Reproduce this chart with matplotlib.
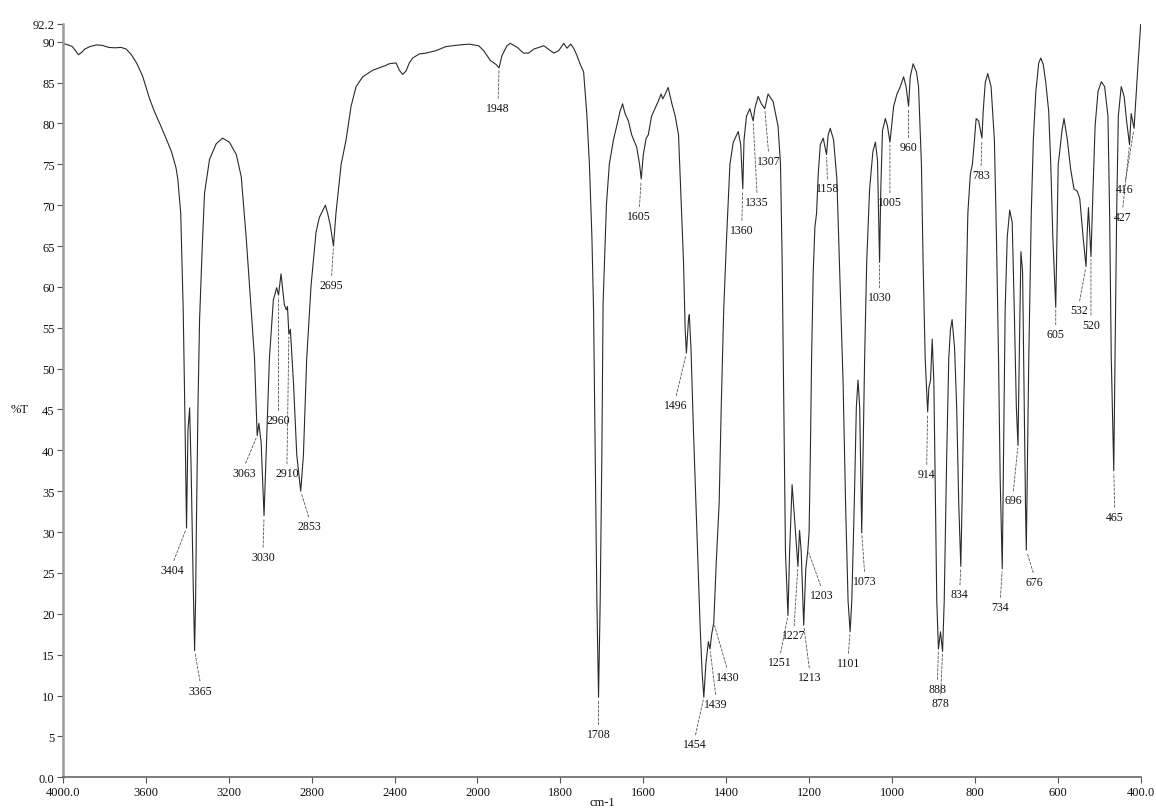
import numpy as np
import matplotlib
matplotlib.use("Agg")
import matplotlib.pyplot as plt

# ---------------- data ----------------
wavenumber = [
    4000, 3975, 3955, 3940, 3925, 3910, 3895, 3870, 3840, 3810, 3780, 3750, 3720, 3695,
    3670, 3645, 3616, 3582, 3558, 3530, 3500, 3476, 3455, 3446, 3432, 3420, 3411, 3404,
    3397, 3389, 3382, 3372, 3365, 3360, 3357, 3349, 3341, 3328, 3317, 3293, 3261, 3230,
    3197, 3164, 3140, 3116, 3092, 3076, 3068, 3063, 3055, 3044, 3036, 3030, 3020, 3004,
    2985, 2969, 2960, 2948, 2932, 2922, 2917, 2910, 2903, 2888, 2872, 2853, 2840, 2824,
    2803, 2779, 2763, 2734, 2723, 2710, 2695, 2683, 2658, 2634, 2610, 2586, 2554, 2506,
    2442, 2426, 2393, 2377, 2361, 2345, 2329, 2313, 2281, 2249, 2201, 2152, 2088, 2040,
    1997, 1985, 1969, 1955, 1948, 1941, 1929, 1921, 1904, 1889, 1877, 1864, 1852, 1840,
    1832, 1816, 1804, 1800, 1792, 1784, 1775, 1768, 1760, 1752, 1744, 1736, 1730, 1724,
    1720, 1716, 1712, 1708, 1704, 1700, 1697, 1689, 1682, 1672, 1664, 1656, 1650, 1644,
    1636, 1628, 1616, 1609, 1605, 1600, 1593, 1588, 1580, 1572, 1564, 1557, 1553, 1547,
    1540, 1531, 1523, 1515, 1510, 1503, 1499, 1496, 1491, 1489, 1485, 1479, 1471, 1463,
    1458, 1454, 1449, 1443, 1439, 1435, 1430, 1424, 1417, 1412, 1406, 1399, 1391, 1383,
    1371, 1365, 1360, 1357, 1351, 1343, 1335, 1331, 1323, 1315, 1307, 1299, 1287, 1275,
    1269, 1265, 1261, 1257, 1251, 1247, 1241, 1236, 1227, 1223, 1219, 1213, 1208, 1203,
    1200, 1197, 1194, 1190, 1186, 1182, 1178, 1173, 1166, 1158, 1154, 1149, 1141, 1133,
    1127, 1118, 1112, 1106, 1101, 1097, 1091, 1086, 1082, 1078, 1073, 1070, 1066, 1061,
    1054, 1046, 1040, 1035, 1030, 1027, 1023, 1016, 1011, 1005, 1001, 996, 988, 980,
    972, 966, 960, 956, 949, 941, 936, 929, 925, 920, 914, 911, 907, 903,
    899, 895, 892, 888, 883, 878, 874, 868, 863, 859, 855, 849, 844, 839,
    834, 831, 827, 822, 817, 811, 806, 802, 797, 791, 783, 780, 775, 769,
    761, 753, 748, 743, 739, 734, 731, 727, 722, 716, 710, 705, 700, 696,
    693, 689, 685, 681, 678, 676, 673, 670, 664, 659, 653, 646, 641, 635,
    629, 622, 617, 612, 605, 602, 599, 595, 590, 585, 577, 569, 561, 553,
    547, 539, 532, 529, 526, 523, 520, 515, 510, 503, 495, 487, 479, 475,
    471, 465, 462, 458, 454, 447, 440, 434, 427, 423, 416, 412, 407, 400,
]
transmittance = [
    89.8, 89.6, 89.4, 88.9, 88.4, 88.7, 89.1, 89.4, 89.6, 89.55, 89.3, 89.25, 89.3, 89.1,
    88.4, 87.4, 85.8, 83.0, 81.4, 79.8, 78.0, 76.5, 74.6, 73.2, 69.0, 57.2, 43.0, 30.5,
    42.5, 45.2, 38.0, 24.0, 15.5, 22.0, 29.5, 45.0, 56.0, 65.0, 71.5, 75.6, 77.5, 78.2,
    77.7, 76.2, 73.5, 66.0, 57.2, 51.3, 45.5, 41.8, 43.3, 41.0, 36.0, 32.0, 39.4, 51.3,
    58.4, 59.9, 59.0, 61.6, 57.8, 57.2, 57.6, 54.2, 54.8, 48.3, 39.4, 35.0, 39.4, 51.3,
    60.2, 66.7, 68.5, 70.0, 69.0, 67.5, 65.0, 69.0, 75.0, 78.0, 82.1, 84.5, 85.7, 86.5,
    87.1, 87.3, 87.4, 86.5, 86.0, 86.4, 87.4, 88.0, 88.5, 88.6, 88.9, 89.4, 89.6, 89.7,
    89.5, 88.9, 87.7, 87.2, 86.8, 88.3, 89.5, 89.8, 89.3, 88.6, 88.6, 89.1, 89.3, 89.5,
    89.2, 88.6, 88.9, 89.2, 89.8, 89.2, 89.7, 89.2, 88.3, 87.2, 86.3, 80.9, 75.0, 66.1,
    57.2, 39.4, 21.6, 9.8, 21.6, 39.4, 58.0, 70.0, 75.0, 78.0, 79.7, 81.5, 82.4, 81.2,
    80.3, 78.6, 77.1, 75.0, 73.2, 76.2, 78.2, 78.6, 80.9, 81.8, 82.7, 83.6, 83.0, 83.6,
    84.4, 82.4, 80.9, 78.6, 72.0, 63.1, 54.8, 51.9, 56.0, 56.6, 52.5, 42.4, 30.5, 18.6,
    12.7, 9.8, 13.9, 16.6, 15.7, 17.5, 18.9, 26.3, 33.5, 45.3, 57.2, 66.1, 75.0, 77.7,
    79.0, 77.4, 72.0, 78.0, 80.9, 81.8, 80.3, 81.8, 83.3, 82.4, 81.8, 83.6, 82.7, 79.7,
    75.0, 63.1, 45.3, 27.5, 19.8, 27.6, 35.8, 32.3, 25.8, 30.2, 27.6, 18.6, 25.5, 27.8,
    30.0, 39.4, 51.3, 61.9, 67.3, 69.0, 73.8, 77.4, 78.2, 76.2, 78.6, 79.4, 78.0, 73.2,
    63.1, 48.3, 33.5, 21.6, 17.8, 21.6, 33.5, 45.3, 48.6, 45.3, 29.9, 39.4, 51.3, 63.1,
    72.0, 76.6, 77.7, 75.5, 63.0, 72.0, 79.1, 80.6, 79.7, 77.7, 79.7, 82.1, 83.6, 84.5,
    85.7, 84.5, 82.1, 85.7, 87.3, 86.3, 84.5, 75.0, 63.1, 51.3, 44.7, 47.7, 48.6, 53.6,
    48.3, 33.5, 21.6, 15.7, 17.8, 15.4, 21.6, 39.4, 51.3, 54.8, 56.0, 52.5, 45.3, 33.5,
    25.8, 33.5, 45.3, 57.2, 69.0, 73.8, 75.0, 77.4, 80.6, 80.3, 78.2, 81.5, 85.0, 86.1,
    84.5, 78.0, 66.1, 51.3, 36.4, 25.5, 39.4, 57.2, 66.1, 69.4, 67.9, 57.2, 45.3, 40.6,
    51.3, 64.3, 61.9, 45.3, 33.5, 27.8, 40.0, 51.3, 69.0, 78.0, 83.9, 87.4, 88.0, 87.2,
    85.0, 81.5, 75.0, 66.1, 57.5, 66.1, 75.0, 76.7, 79.1, 80.6, 78.0, 74.4, 72.0, 71.7,
    70.8, 66.1, 62.5, 66.7, 69.7, 66.7, 63.7, 72.0, 79.7, 83.9, 85.1, 84.5, 80.9, 69.0,
    51.3, 37.5, 51.3, 69.0, 80.9, 84.5, 83.3, 80.3, 77.4, 81.2, 79.4, 82.7, 86.8, 92.2,
]

peak_wavenumbers = [3404, 3365, 3063, 3030, 2960, 2910, 2853, 2695, 1948, 1708, 1605,
                    1496, 1454, 1439, 1430, 1360, 1335, 1307, 1251, 1227, 1213, 1203,
                    1158, 1101, 1073, 1030, 1005, 960, 914, 888, 878, 834, 783, 734,
                    696, 676, 605, 532, 520, 465, 427, 416]
peak_labels = [str(p) for p in peak_wavenumbers]

x_ticks = [4000, 3600, 3200, 2800, 2400, 2000, 1800, 1600, 1400, 1200, 1000, 800, 600, 400]
x_tick_labels = ["4000.0", "3600", "3200", "2800", "2400", "2000", "1800", "1600",
                 "1400", "1200", "1000", "800", "600", "400.0"]
y_ticks = [0, 5, 10, 15, 20, 25, 30, 35, 40, 45, 50, 55, 60, 65, 70, 75, 80, 85, 90, 92.2]
y_tick_labels = ["0.0", "5", "10", "15", "20", "25", "30", "35", "40", "45", "50", "55",
                 "60", "65", "70", "75", "80", "85", "90", "92.2"]

# label offsets from the peak point, in pixels (right, down) -- layout only
label_offsets_px = [(-14, 42), (6, 40), (-13, 37), (-1, 41), (0, 125), (-2, 139), (9, 35),
                    (-2, 39), (-1, 40), (0, 37), (-2, 37), (-11, 52), (-9, 47), (6, 55),
                    (14, 54), (-1, 41), (4, 81), (4, 52), (-8, 47), (-4, 69), (6, 52),
                    (14, 45), (1, 34), (-2, 31), (3, 48), (0, 35), (0, 60), (0, 41),
                    (-1, 62), (-1, 40), (-2, 52), (-1, 28), (-1, 37), (-2, 38), (-5, 55),
                    (8, 32), (0, 27), (-7, 44), (0, 68), (1, 46), (-7, 72), (-9, 61)]

# ---------------- figure ----------------
plt.rcParams["font.family"] = ["Liberation Serif", "DejaVu Serif"]

W, H, DPI = 1156, 812, 100
fig = plt.figure(figsize=(W / DPI, H / DPI), dpi=DPI)
ax = fig.add_axes([63 / W, 1 - 778.3 / H, (1140.7 - 63) / W, (778.3 - 24.7) / H])


def fwd(x):
    x = np.asarray(x, dtype=float)
    return np.where(x > 2000, 2000 + (x - 2000) / 2.0, x)


def inv(y):
    y = np.asarray(y, dtype=float)
    return np.where(y > 2000, 2000 + (y - 2000) * 2.0, y)


ax.set_xscale("function", functions=(fwd, inv))
ax.set_xlim(4000, 400)
ax.set_ylim(0, 92.2)

ax.plot(wavenumber, transmittance, color="#2a2a2a", lw=0.8)

wn_arr = np.array(wavenumber, dtype=float)
t_arr = np.array(transmittance, dtype=float)
px2pt = 72.0 / DPI
for wn, lab, (dx, dy) in zip(peak_wavenumbers, peak_labels, label_offsets_px):
    t = np.interp(wn, wn_arr[::-1], t_arr[::-1])
    ax.annotate(lab, xy=(wn, t), xytext=(dx * px2pt, -dy * px2pt),
                textcoords="offset points", ha="center", va="center",
                fontsize=8.5, color="#111111",
                arrowprops=dict(arrowstyle="-", linestyle=(0, (3, 2)), lw=0.6,
                                color="#555555", shrinkA=0.5, shrinkB=2,
                                relpos=(0.5, 1.0)))

ax.set_xticks(x_ticks)
ax.set_xticklabels(x_tick_labels)
ax.set_yticks(y_ticks)
ax.set_yticklabels(y_tick_labels)
ax.minorticks_off()
ax.tick_params(axis="both", direction="out", length=4, width=0.8, colors="#555555",
               labelcolor="#111111", labelsize=9, pad=2)

for s in ("top", "right"):
    ax.spines[s].set_visible(False)
ax.spines["left"].set_color("#9a9a9a")
ax.spines["left"].set_linewidth(1.8)
ax.spines["bottom"].set_color("#666666")
ax.spines["bottom"].set_linewidth(1.2)

fig.text(20 / W, 1 - 410 / H, "%T", ha="center", va="center", fontsize=9, color="#111111")
fig.text(602 / W, 1 - 803 / H, "cm-1", ha="center", va="center", fontsize=9, color="#111111")

fig.savefig("out.png", dpi=DPI)
